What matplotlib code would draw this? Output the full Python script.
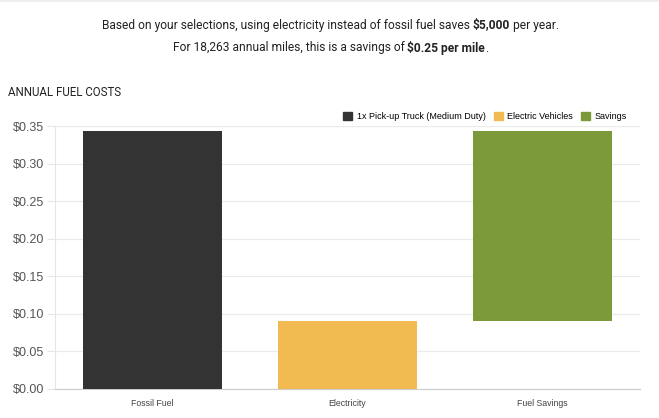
import matplotlib.pyplot as plt
from matplotlib.patches import Patch
from matplotlib.lines import Line2D
from matplotlib import font_manager

# Chart data
categories = ['Fossil Fuel', 'Electricity', 'Fuel Savings']
fossil_cost = 0.3435       # $ per mile
electric_cost = 0.0905     # $ per mile
savings = fossil_cost - electric_cost

series_labels = ['1x Pick-up Truck (Medium Duty)', 'Electric Vehicles', 'Savings']
colors = ['#333333', '#f2bb52', '#7d9a3a']
yticks = [0.00, 0.05, 0.10, 0.15, 0.20, 0.25, 0.30, 0.35]

W, H = 659, 418
fig = plt.figure(figsize=(W / 100, H / 100), dpi=100)
ax = fig.add_axes([55 / W, 1 - 389 / H, 585 / W, 263 / H])

x = range(len(categories))
bottoms = [0, 0, electric_cost]
heights = [fossil_cost, electric_cost, savings]
ax.bar(x, heights, bottom=bottoms, width=0.71, color=colors, zorder=3)

ax.set_xlim(-0.5, 2.5)
ax.set_ylim(0, 0.35)
ax.set_yticks(yticks)
ax.set_yticklabels([f'${v:.2f}' for v in yticks], fontsize=9, color='#555555',
                   family='Liberation Sans')
ax.set_xticks(list(x))
ax.set_xticklabels(categories, fontsize=6.3, color='#444444', family='Liberation Sans')
ax.tick_params(axis='y', length=6, color='#e6e6e6', pad=2)
ax.tick_params(axis='x', length=0, pad=7)
ax.grid(axis='y', color='#ebebeb', linewidth=0.9, zorder=0)
for s in ['top', 'right']:
    ax.spines[s].set_visible(False)
ax.spines['left'].set_color('#e6e6e6')
ax.spines['bottom'].set_color('#cccccc')

# legend
handles = [Patch(color=c) for c in colors]
ax.legend(handles, series_labels, loc='lower right', bbox_to_anchor=(0.985, 1.0),
          ncol=3, frameon=False, handlelength=1.0, handleheight=1.0,
          handletextpad=0.5, columnspacing=0.9, borderaxespad=0.1,
          prop={'family': 'Liberation Sans', 'size': 6.5})

fig.text(8 / W, 1 - 93 / H, 'ANNUAL FUEL COSTS', fontsize=8.3, color='#222222',
         family='Roboto', va='center')

# faint page border at the very top
fig.add_artist(Line2D([0, 1], [1 - 1 / H, 1 - 1 / H], color='#eeeeee', linewidth=1.5))

# headline with bold pieces, narrow font if one is installed
names = {f.name for f in font_manager.fontManager.ttflist}
head_font = 'Liberation Sans Narrow' if 'Liberation Sans Narrow' in names else 'Roboto'
renderer = fig.canvas.get_renderer()


def rich_line(parts, y, size):
    texts = []
    for s, bold in parts:
        t = fig.text(0, y, s, fontsize=size, color='#222222', family=head_font,
                     weight='bold' if bold else 'normal', va='center')
        texts.append(t)
    widths = [t.get_window_extent(renderer).width for t in texts]
    xpos = (W - sum(widths)) / 2 + 1
    for t, w in zip(texts, widths):
        t.set_x(xpos / W)
        xpos += w
    return sum(widths)


line1 = [('Based on your selections, using electricity instead of fossil fuel saves ', False),
         ('$5,000', True), (' per year.', False)]
line2 = [('For 18,263 annual miles, this is a savings of ', False),
         ('$0.25 per mile', True), ('.', False)]

# size the headline so the first line is close to the reference width
probe = fig.text(0, 0, ''.join(s for s, _ in line1), fontsize=10, family=head_font)
size = 10 * 458 / probe.get_window_extent(renderer).width
probe.remove()

rich_line(line1, 1 - 25 / H, size)
rich_line(line2, 1 - 48 / H, size)

fig.savefig('out.png', dpi=100)
